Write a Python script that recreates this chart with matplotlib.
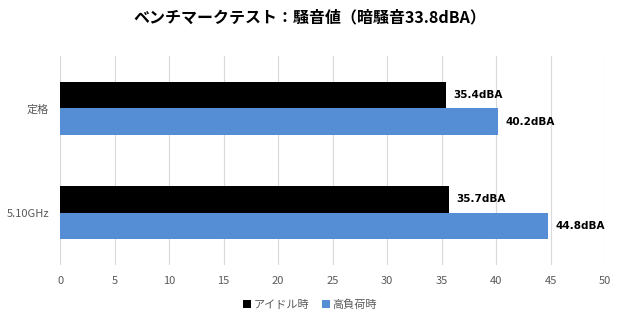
import matplotlib
matplotlib.use('Agg')
import matplotlib.pyplot as plt
import numpy as np

plt.rcParams['font.family'] = ['Noto Sans CJK JP', 'DejaVu Sans']

# data
categories = ['定格', '5.10GHz']
series_names = ['アイドル時', '高負荷時']
idle = [35.4, 35.7]
load = [40.2, 44.8]
colors = ['#000000', '#558ed5']

fig = plt.figure(figsize=(6.2, 3.2), dpi=100)
ax = fig.add_axes([0.097, 0.172, 0.879, 0.653])

y = np.arange(len(categories))
h = 0.255
bars = []
for i, (vals, name) in enumerate(zip([idle, load], series_names)):
    b = ax.barh(y - h / 2 + i * h, vals, height=h, color=colors[i], label=name, zorder=3)
    bars.append(b)
    for rect, v in zip(b, vals):
        ax.text(v + 0.65, rect.get_y() + rect.get_height() / 2, '%.1fdBA' % v,
                va='center', ha='left', fontsize=7.5, fontweight='bold', color='#000000',
                family=['Verdana', 'DejaVu Sans'])

ax.set_xlim(0, 50)
ax.set_ylim(1.5, -0.5)
ax.set_xticks(np.arange(0, 51, 5))
ax.set_yticks(y)
ax.set_yticklabels(categories)
ax.grid(axis='x', color='#d9d9d9', linewidth=0.8, zorder=0)
for s in ax.spines.values():
    s.set_visible(False)
ax.tick_params(axis='both', length=0, labelsize=8, labelcolor='#595959')
ax.tick_params(axis='x', pad=8)
ax.tick_params(axis='y', pad=8)

fig.suptitle('ベンチマークテスト：騒音値（暗騒音33.8dBA）', x=0.5, y=0.97,
             fontsize=11.5, fontweight='bold')

fig.legend(handles=bars, labels=series_names, loc='center', bbox_to_anchor=(0.5, 0.048),
           ncol=2, frameon=False, fontsize=8, labelcolor='#595959',
           handlelength=0.7, handleheight=0.7, handletextpad=0.2, columnspacing=1.2)

fig.savefig('out.png', dpi=100)
